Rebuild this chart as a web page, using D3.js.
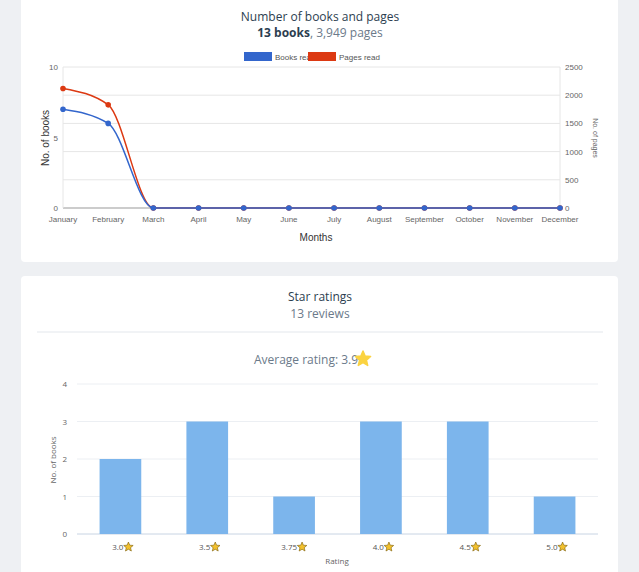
<!DOCTYPE html>
<html>
<head>
<meta charset="utf-8">
<script src="https://cdn.jsdelivr.net/npm/d3@7"></script>
<style>
  body { margin: 0; background: #eef0f3; font-family: "Open Sans", sans-serif; }
  svg { display: block; }
</style>
</head>
<body>
<svg id="chart" width="639" height="572"></svg>
<script>
var months = ["January", "February", "March", "April", "May", "June", "July",
  "August", "September", "October", "November", "December"];
var booksRead = [7, 6, 0, 0, 0, 0, 0, 0, 0, 0, 0, 0];
var pagesRead = [2120, 1829, 0, 0, 0, 0, 0, 0, 0, 0, 0, 0];
var bookTicks = [0, 5, 10];
var pageTicks = [0, 500, 1000, 1500, 2000, 2500];

var ratings = ["3.0", "3.5", "3.75", "4.0", "4.5", "5.0"];
var ratingCounts = [2, 3, 1, 3, 3, 1];
var countTicks = [0, 1, 2, 3, 4];

var svg = d3.select("#chart");

// cards
svg.append("rect").attr("x", 21).attr("y", -4).attr("width", 597).attr("height", 266)
  .attr("rx", 4).attr("fill", "#fff");
svg.append("rect").attr("x", 21).attr("y", 276).attr("width", 597).attr("height", 310)
  .attr("rx", 4).attr("fill", "#fff");

// ---- chart 1: books and pages per month ----
svg.append("text").attr("x", 320).attr("y", 21).attr("text-anchor", "middle")
  .attr("font-size", 12).attr("fill", "#2c3e50").text("Number of books and pages");
var sub = svg.append("text").attr("x", 320).attr("y", 37).attr("text-anchor", "middle")
  .attr("font-size", 12);
sub.append("tspan").attr("font-weight", "bold").attr("fill", "#2c3e50").text("13 books");
sub.append("tspan").attr("fill", "#6b7a8a").text(", 3,949 pages");

// legend
svg.append("rect").attr("x", 244).attr("y", 52).attr("width", 28).attr("height", 9).attr("fill", "#3366cc");
svg.append("text").attr("x", 275).attr("y", 60).attr("font-family", "Liberation Sans, Arial")
  .attr("font-size", 8).attr("fill", "#555").text("Books read");
svg.append("rect").attr("x", 308).attr("y", 52).attr("width", 28).attr("height", 9).attr("fill", "#dc3912");
svg.append("text").attr("x", 339).attr("y", 60).attr("font-family", "Liberation Sans, Arial")
  .attr("font-size", 8).attr("fill", "#555").text("Pages read");

var x = d3.scalePoint().domain(months).range([63, 560]);
var yBooks = d3.scaleLinear().domain([0, 10]).range([208, 67]);
var yPages = d3.scaleLinear().domain([0, 2500]).range([208, 67]);

var g1 = svg.append("g").attr("font-family", "Liberation Sans, Arial");

g1.selectAll(".grid").data(pageTicks).enter().append("line")
  .attr("x1", 63).attr("x2", 560)
  .attr("y1", function(d) { return yPages(d); }).attr("y2", function(d) { return yPages(d); })
  .attr("stroke", function(d) { return d === 0 ? "#999" : "#e6e6e6"; });
g1.append("line").attr("x1", 63).attr("x2", 63).attr("y1", 67).attr("y2", 208).attr("stroke", "#e6e6e6");
g1.append("line").attr("x1", 560).attr("x2", 560).attr("y1", 67).attr("y2", 208).attr("stroke", "#e6e6e6");

g1.selectAll(".lt").data(bookTicks).enter().append("text")
  .attr("x", 58).attr("y", function(d) { return yBooks(d) + 3; })
  .attr("text-anchor", "end").attr("font-size", 8).attr("fill", "#666").text(function(d) { return d; });
g1.selectAll(".rt").data(pageTicks).enter().append("text")
  .attr("x", 565).attr("y", function(d) { return yPages(d) + 3; })
  .attr("font-size", 8).attr("fill", "#666").text(function(d) { return d; });
g1.selectAll(".mt").data(months).enter().append("text")
  .attr("x", function(d) { return x(d); }).attr("y", 222)
  .attr("text-anchor", "middle").attr("font-size", 8).attr("fill", "#666").text(function(d) { return d; });

g1.append("text").attr("transform", "translate(49,138) rotate(-90)").attr("text-anchor", "middle")
  .attr("font-size", 10).attr("fill", "#333").text("No. of books");
g1.append("text").attr("transform", "translate(593,138) rotate(90)").attr("text-anchor", "middle")
  .attr("font-size", 7).attr("fill", "#666").text("No. of pages");
g1.append("text").attr("x", 316).attr("y", 241).attr("text-anchor", "middle")
  .attr("font-size", 10).attr("fill", "#333").text("Months");

var pageLine = d3.line().x(function(d, i) { return x(months[i]); })
  .y(function(d) { return yPages(d); }).curve(d3.curveMonotoneX);
var bookLine = d3.line().x(function(d, i) { return x(months[i]); })
  .y(function(d) { return yBooks(d); }).curve(d3.curveMonotoneX);

g1.append("path").datum(pagesRead).attr("d", pageLine).attr("fill", "none")
  .attr("stroke", "#dc3912").attr("stroke-width", 1.5);
g1.selectAll(".pd").data(pagesRead).enter().append("circle")
  .attr("cx", function(d, i) { return x(months[i]); }).attr("cy", function(d) { return yPages(d); })
  .attr("r", 2.8).attr("fill", "#dc3912");
g1.append("path").datum(booksRead).attr("d", bookLine).attr("fill", "none")
  .attr("stroke", "#3366cc").attr("stroke-width", 1.5);
g1.selectAll(".bd").data(booksRead).enter().append("circle")
  .attr("cx", function(d, i) { return x(months[i]); }).attr("cy", function(d) { return yBooks(d); })
  .attr("r", 2.8).attr("fill", "#3366cc");

// ---- chart 2: star ratings ----
svg.append("text").attr("x", 320).attr("y", 301).attr("text-anchor", "middle")
  .attr("font-size", 12).attr("fill", "#2c3e50").text("Star ratings");
svg.append("text").attr("x", 320).attr("y", 318).attr("text-anchor", "middle")
  .attr("font-size", 12).attr("fill", "#6b7a8a").text("13 reviews");
svg.append("line").attr("x1", 37).attr("x2", 603).attr("y1", 332).attr("y2", 332)
  .attr("stroke", "#e3e7ec");
svg.append("text").attr("x", 306).attr("y", 364).attr("text-anchor", "middle")
  .attr("font-size", 12).attr("fill", "#6b7a8a").text("Average rating: 3.9");

function star(cx, cy, r) {
  var pts = [];
  for (var i = 0; i < 10; i++) {
    var a = -Math.PI / 2 + i * Math.PI / 5;
    var rr = i % 2 === 0 ? r : r * 0.45;
    pts.push([cx + rr * Math.cos(a), cy + rr * Math.sin(a)]);
  }
  return "M" + pts.join("L") + "Z";
}
svg.append("path").attr("d", star(363, 359, 8)).attr("fill", "#fbd341")
  .attr("stroke", "#fbd341").attr("stroke-width", 1.5).attr("stroke-linejoin", "round");

var xb = d3.scaleBand().domain(ratings).range([77, 598]).paddingInner(0.52).paddingOuter(0.26);
var yb = d3.scaleLinear().domain([0, 4]).range([534, 384]);
var g2 = svg.append("g");

g2.selectAll(".g").data(countTicks).enter().append("line")
  .attr("x1", 77).attr("x2", 598)
  .attr("y1", function(d) { return yb(d); }).attr("y2", function(d) { return yb(d); })
  .attr("stroke", function(d) { return d === 0 ? "#c8d4e3" : "#eceff3"; });
g2.selectAll(".yt").data(countTicks).enter().append("text")
  .attr("x", 67).attr("y", function(d) { return yb(d) + 3; }).attr("text-anchor", "end")
  .attr("font-size", 8).attr("fill", "#666").text(function(d) { return d; });
g2.selectAll(".bar").data(ratingCounts).enter().append("rect")
  .attr("x", function(d, i) { return xb(ratings[i]); }).attr("width", xb.bandwidth())
  .attr("y", function(d) { return yb(d); }).attr("height", function(d) { return yb(0) - yb(d); })
  .attr("fill", "#7cb5ec");
var lbl = g2.selectAll(".xl").data(ratings).enter().append("g")
  .attr("transform", function(d) { return "translate(" + (xb(d) + xb.bandwidth() / 2) + ",550)"; });
lbl.append("text").attr("x", 3).attr("text-anchor", "end").attr("font-size", 8).attr("fill", "#555")
  .text(function(d) { return d; });
lbl.append("path").attr("d", star(8, -3, 5)).attr("fill", "#f2c12e").attr("stroke", "#7a5a00").attr("stroke-width", 0.6);
g2.append("text").attr("transform", "translate(56,460) rotate(-90)").attr("text-anchor", "middle")
  .attr("font-size", 8).attr("fill", "#666").text("No. of books");
g2.append("text").attr("x", 337).attr("y", 564).attr("text-anchor", "middle")
  .attr("font-size", 8).attr("fill", "#666").text("Rating");
</script>
</body>
</html>
